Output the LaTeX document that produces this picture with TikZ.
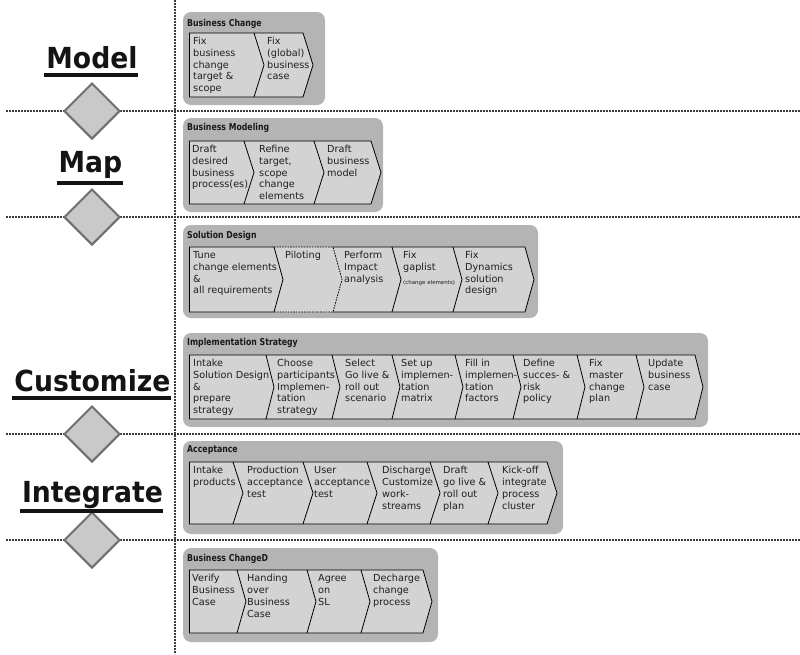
\documentclass[tikz,border=0pt]{standalone}
\usepackage{fontspec}
\usetikzlibrary{shapes.geometric}
\setmainfont{DejaVu Sans}
\newfontfamily\groupfont{DejaVu Sans}[FakeStretch=0.82]
\newfontfamily\phasefont{DejaVu Sans}[FakeStretch=0.92]

\definecolor{groupgray}{HTML}{B4B4B4}
\definecolor{chevgray}{HTML}{D3D3D3}
\definecolor{gatefill}{HTML}{C9C9C9}
\definecolor{gateline}{HTML}{6E6E6E}
\definecolor{divline}{HTML}{3C3C3C}

\tikzset{
  divider/.style={line width=2pt, draw=divline, dash pattern=on 2.2pt off 0.8pt},
  gate/.style={shape=diamond, aspect=1, minimum width=56pt, minimum height=56pt,
    inner sep=0pt, fill=gatefill, draw=gateline, line width=2pt},
  group/.style={fill=groupgray, rounded corners=8pt},
  chevfill/.style={fill=chevgray},
  chevline/.style={draw=black, line width=0.8pt, line join=miter},
  pilot/.style={dash pattern=on 1.6pt off 1.1pt},
  chevtext/.style={anchor=north west, inner sep=0pt, align=left,
    font=\fontsize{9.7}{11.7}\selectfont, text=black!88},
  grouptitle/.style={anchor=base west, inner sep=0pt,
    font=\groupfont\bfseries\fontsize{9.5}{11}\selectfont, text=black!90},
  phase/.style={anchor=base, inner sep=0pt,
    font=\phasefont\bfseries\fontsize{29}{32}\selectfont, text=black!92},
  uline/.style={line width=3.2pt, draw=black!92},
}

% A row of chevrons: #1 top y, #2 bottom y, #3 tip depth, #4 left x,
% #5 list of right-top x / outline style for each chevron
\newcommand\chevrow[5]{%
  \foreach \rx/\rs [remember=\rx as \lx (initially #4)] in {#5}{
    \pgfmathsetmacro\nd{\lx==#4 ? 0 : #3}
    \fill[chevfill] (\lx,#1) -- (\rx,#1) -- ({\rx+#3},{(#1+#2)/2}) -- (\rx,#2)
      -- (\lx,#2) -- ({\lx+\nd},{(#1+#2)/2}) -- cycle;
  }
  \foreach \rx/\rs [remember=\rx as \lx (initially #4)] in {#5}{
    \draw[chevline,\rs] (\lx,#1) -- (\rx,#1) -- ({\rx+#3},{(#1+#2)/2}) -- (\rx,#2) -- (\lx,#2);
  }
  \draw[chevline] (#4,#1) -- (#4,#2);
}

\begin{document}
\begin{tikzpicture}[x=1pt,y=-1pt]
\useasboundingbox (0,0) rectangle (800,654);

% phase dividers
\foreach \yy in {111,217,434,540}
  \draw[divider] (6,\yy) -- (800,\yy);
\draw[divider] (175,0) -- (175,654);

% phase gates
\node[gate] (gate1) at (92,111) {};
\node[gate] (gate2) at (92,217) {};
\node[gate] (gate3) at (92,434) {};
\node[gate] (gate4) at (92,540) {};

% phase names
\node[phase] (model) at (92,68) {Model};
\node[phase] (map) at (90.5,172) {Map};
\node[phase] (customize) at (92.5,391) {Customize};
\node[phase] (integrate) at (92.5,502) {Integrate};
\draw[uline] ([xshift=-2pt,yshift=-7pt]model.base west) -- ([yshift=-7pt]model.base east);
\draw[uline] ([xshift=-1pt,yshift=-11pt]map.base west) -- ([yshift=-11pt]map.base east);
\draw[uline] ([xshift=-2pt,yshift=-7pt]customize.base west) -- ([yshift=-7pt]customize.base east);
\draw[uline] ([xshift=-2pt,yshift=-9pt]integrate.base west) -- ([yshift=-9pt]integrate.base east);

% Business Change
\fill[group] (183,12) rectangle (325,105);
\node[grouptitle] (t1) at (187,26) {Business Change};
\chevrow{33}{97}{10}{189}{254/solid,303/solid}
\node[chevtext] (bc1) at (193,36.5) {\strut Fix\\business\\change\\target \&\\scope};
\node[chevtext] (bc2) at (267,36.5) {\strut Fix\\(global)\\business\\case};

% Business Modeling
\fill[group] (183,118) rectangle (383,212);
\node[grouptitle] (t2) at (187,130) {Business Modeling};
\chevrow{141}{204}{10}{189}{244/solid,314/solid,371/solid}
\node[chevtext] (bm1) at (192,144.5) {\strut Draft\\desired\\business\\process(es)};
\node[chevtext] (bm2) at (259,144.5) {\strut Refine\\target,\\scope\\change\\elements};
\node[chevtext] (bm3) at (327,144.5) {\strut Draft\\business\\model};

% Solution Design
\fill[group] (183,225) rectangle (538,318);
\node[grouptitle] (t3) at (187,238) {Solution Design};
\chevrow{247}{312}{9}{189}{274/solid,333/pilot,392/solid,453/solid,525/solid}
\node[chevtext] (sd1) at (193,250.5) {\strut Tune\\change elements\\\&\\all requirements};
\node[chevtext] (sd2) at (285,250.5) {\strut Piloting};
\node[chevtext] (sd3) at (344,250.5) {\strut Perform\\Impact\\analysis};
\node[chevtext] (sd4) at (403,250.5) {\strut Fix\\gaplist\\[2pt]{\fontsize{5.5}{6}\selectfont (change elements)}};
\node[chevtext] (sd5) at (465,250.5) {\strut Fix\\Dynamics\\solution\\design};

% Implementation Strategy
\fill[group] (183,333) rectangle (708,427);
\node[grouptitle] (t4) at (187,345) {Implementation Strategy};
\chevrow{355}{419}{8}{189}{266/solid,332/solid,392/solid,455/solid,513/solid,577/solid,636/solid,695/solid}
\node[chevtext] (is1) at (193,358.5) {\strut Intake\\Solution Design\\\&\\prepare\\strategy};
\node[chevtext] (is2) at (277,358.5) {\strut Choose\\participants\\Implemen-\\tation\\strategy};
\node[chevtext] (is3) at (345,358.5) {\strut Select\\Go live \&\\roll out\\scenario};
\node[chevtext] (is4) at (401,358.5) {\strut Set up\\implemen-\\tation\\matrix};
\node[chevtext] (is5) at (465,358.5) {\strut Fill in\\implemen-\\tation\\factors};
\node[chevtext] (is6) at (523,358.5) {\strut Define\\succes- \&\\risk\\policy};
\node[chevtext] (is7) at (589,358.5) {\strut Fix\\master\\change\\plan};
\node[chevtext] (is8) at (648,358.5) {\strut Update\\business\\case};

% Acceptance
\fill[group] (183,441) rectangle (563,534);
\node[grouptitle] (t5) at (187,452) {Acceptance};
\chevrow{462}{524}{10}{189}{233/solid,303/solid,367/solid,430/solid,488/solid,547/solid}
\node[chevtext] (ac1) at (193,465.5) {\strut Intake\\products};
\node[chevtext] (ac2) at (247,465.5) {\strut Production\\acceptance\\test};
\node[chevtext] (ac3) at (314,465.5) {\strut User\\acceptance\\test};
\node[chevtext] (ac4) at (382,465.5) {\strut Discharge\\Customize\\work-\\streams};
\node[chevtext] (ac5) at (443,465.5) {\strut Draft\\go live \&\\roll out\\plan};
\node[chevtext] (ac6) at (502,465.5) {\strut Kick-off\\integrate\\process\\cluster};

% Business ChangeD
\fill[group] (183,548) rectangle (438,642);
\node[grouptitle] (t6) at (187,561) {Business ChangeD};
\chevrow{570}{633}{9}{189}{237/solid,307/solid,361/solid,423/solid}
\node[chevtext] (bd1) at (192,573.5) {\strut Verify\\Business\\Case};
\node[chevtext] (bd2) at (247,573.5) {\strut Handing\\over\\Business\\Case};
\node[chevtext] (bd3) at (318,573.5) {\strut Agree\\on\\SL};
\node[chevtext] (bd4) at (373,573.5) {\strut Decharge\\change\\process};
\end{tikzpicture}
\end{document}
